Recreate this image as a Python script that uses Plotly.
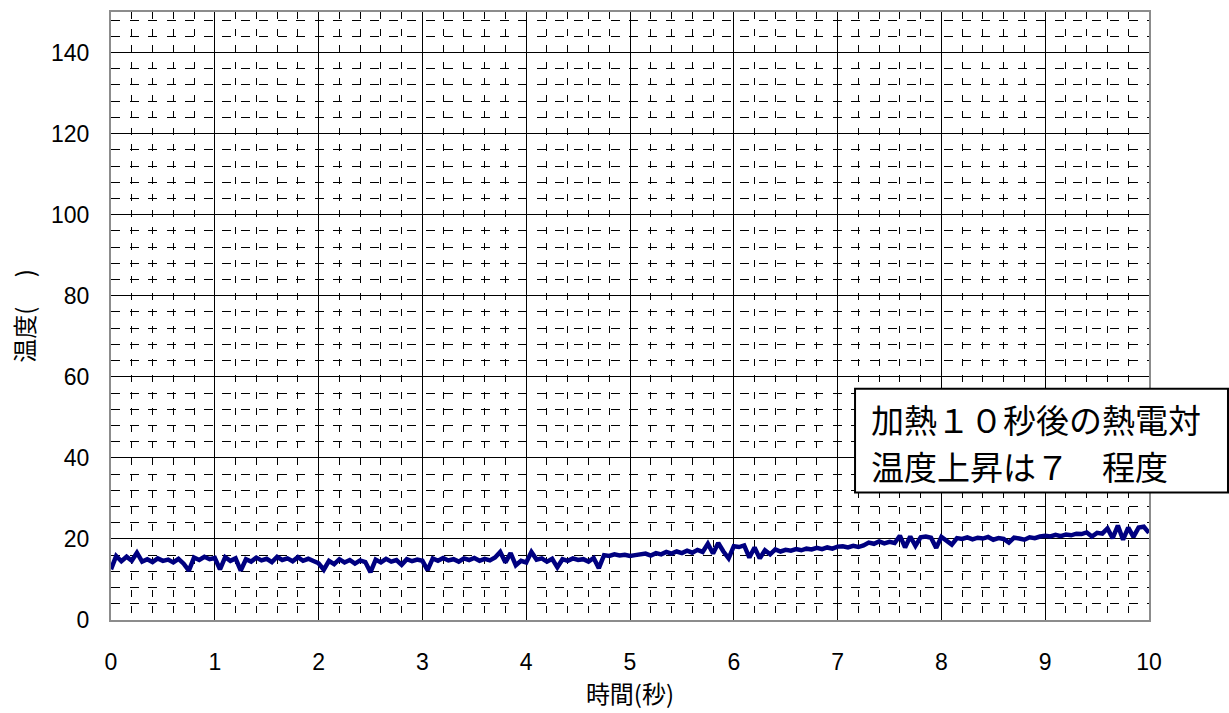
import numpy as np
import plotly.graph_objects as go

# Thermocouple readings, sampled every 0.05 s from 0 to 10 s
sample_interval = 0.05
temperature = [
    # 0.00 - 0.95 s
    12.5, 15.8, 14.5, 15.6, 14.6, 16.6, 14.4, 15.0, 14.3, 15.2,
    14.6, 14.9, 14.2, 15.1, 13.9, 12.2, 15.4, 14.8, 15.6, 15.0,
    # 1.00 - 1.95 s
    15.3, 12.5, 15.5, 14.6, 15.2, 12.2, 15.0, 14.4, 15.4, 14.7,
    15.1, 14.3, 15.6, 14.8, 15.2, 14.5, 15.5, 14.6, 15.1, 14.4,
    # 2.00 - 2.95 s
    14.0, 12.4, 14.6, 13.8, 15.0, 14.2, 14.8, 13.9, 14.7, 14.3,
    11.8, 14.9, 14.2, 15.1, 14.4, 14.8, 13.6, 15.0, 14.5, 14.9,
    # 3.00 - 3.95 s
    14.6, 12.3, 15.2, 14.6, 15.3, 14.7, 15.0, 14.4, 15.2, 14.8,
    15.3, 14.6, 15.1, 14.7, 15.4, 16.8, 14.2, 16.5, 13.5, 14.6,
    # 4.00 - 4.95 s
    14.2, 16.8, 14.9, 15.2, 14.4, 15.1, 13.0, 15.0, 14.6, 15.2,
    14.8, 15.0, 14.4, 15.3, 12.8, 16.0, 15.8, 16.2, 15.9, 16.1,
    # 5.00 - 5.95 s
    15.8, 16.0, 16.2, 16.4, 15.9, 16.5, 16.2, 16.8, 16.4, 16.9,
    16.5, 17.1, 16.6, 17.3, 16.8, 18.8, 16.4, 19.0, 16.9, 15.2,
    # 6.00 - 6.95 s
    18.2, 18.0, 18.4, 15.4, 17.9, 15.2, 17.2, 16.2, 17.4, 16.9,
    17.3, 17.1, 17.5, 17.2, 17.6, 17.4, 17.8, 17.5, 17.9, 17.6,
    # 7.00 - 7.95 s
    18.1, 18.2, 17.9, 18.3, 18.0, 18.4, 19.1, 18.8, 19.4, 18.9,
    19.3, 19.0, 20.8, 17.9, 20.6, 18.3, 20.4, 20.6, 20.3, 17.8,
    # 8.00 - 8.95 s
    20.5, 19.6, 18.6, 20.2, 20.0, 20.4, 19.9, 20.3, 20.1, 20.5,
    19.8, 20.2, 20.0, 19.1, 20.3, 20.1, 19.8, 20.4, 20.2, 20.6,
    # 9.00 - 9.95 s
    20.8, 20.6, 21.0, 20.7, 21.1, 20.9, 21.3, 21.2, 21.6, 20.6,
    21.5, 21.3, 22.6, 20.2, 23.3, 19.8, 22.8, 20.5, 22.8, 23.0,
    # 10.00 s
    21.5,
]
time_s = np.round(np.arange(len(temperature)) * sample_interval, 2)

x_ticks = list(range(0, 11))
y_ticks = list(range(0, 141, 20))

note_lines = ["加熱１０秒後の熱電対", "温度上昇は７　程度"]

tick_font = dict(family="Liberation Sans, Arial, sans-serif", size=23, color="black")
jp_font = "Noto Sans CJK JP"

fig = go.Figure()
fig.add_trace(go.Scatter(
    x=time_s, y=temperature, mode="lines",
    line=dict(color="#000080", width=4.5),
    showlegend=False, hoverinfo="x+y",
))

fig.update_xaxes(
    range=[0, 10], tickvals=x_ticks, ticktext=[str(v) for v in x_ticks],
    showgrid=True, gridcolor="black", gridwidth=1,
    minor=dict(dtick=0.2, showgrid=True, gridcolor="black", gridwidth=1,
               griddash="7px,9.5px"),
    showline=True, linecolor="#8c8c8c", linewidth=2, mirror=True,
    zeroline=False, ticks="", tickfont=tick_font, ticklabelstandoff=20,
    title=dict(text="時間(秒)", font=dict(family=jp_font, size=24, color="black"),
               standoff=10),
)
fig.update_yaxes(
    range=[0, 150], tickvals=y_ticks, ticktext=[str(v) for v in y_ticks],
    showgrid=True, gridcolor="black", gridwidth=1,
    minor=dict(dtick=4, showgrid=True, gridcolor="black", gridwidth=1,
               griddash="9px,9.5px"),
    showline=True, linecolor="#8c8c8c", linewidth=2, mirror=True,
    zeroline=False, ticks="", tickfont=tick_font, ticklabelstandoff=15,
    title=dict(text="温度(　 )", font=dict(family=jp_font, size=24, color="black"),
               standoff=10),
)

# Note box on the right-hand side
fig.add_shape(
    type="rect", xref="paper", yref="paper",
    x0=0.7168, x1=1.0761, y0=0.2098, y1=0.3803,
    line=dict(color="black", width=2), fillcolor="white", layer="above",
)
for text, ypos in zip(note_lines, [0.331, 0.254]):
    fig.add_annotation(
        xref="paper", yref="paper", x=0.730, y=ypos,
        xanchor="left", yanchor="middle", showarrow=False, text=text,
        font=dict(family=jp_font, size=33, color="black"),
    )

fig.update_layout(
    width=1229, height=713,
    margin=dict(l=111, r=80, t=10, b=93),
    paper_bgcolor="white", plot_bgcolor="white",
)

fig.write_html("out.html")
